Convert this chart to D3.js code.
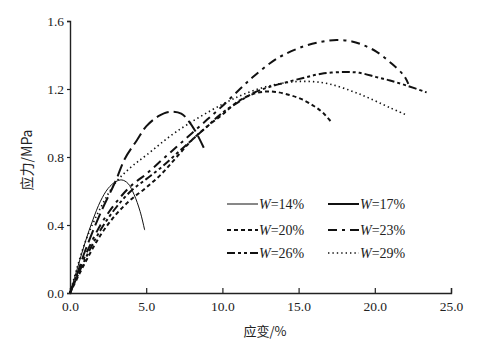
<!DOCTYPE html>
<html>
<head>
<meta charset="utf-8">
<script src="https://cdn.jsdelivr.net/npm/d3@7"></script>
<style>
  body { margin: 0; background: #fff; }
  text { font-family: "Liberation Serif", "DejaVu Serif", serif; fill: #222; }
</style>
</head>
<body>
<script>
'use strict';

// strain (%) / stress (MPa), one array per water content
const w14 = [[0,0],[0.5,0.15],[1,0.3],[1.5,0.43],[2,0.54],[2.5,0.615],[3,0.655],[3.4,0.665],[3.8,0.645],[4.2,0.58],[4.6,0.48],[4.9,0.37]]
const w17 = [[0,0],[0.5,0.12],[1,0.25],[2,0.47],[3,0.66],[3.6,0.79],[4.4,0.9],[5,0.98],[5.8,1.04],[6.5,1.065],[7.3,1.055],[7.8,1.01],[8.3,0.94],[8.8,0.85]]
const w20 = [[0,0],[1,0.18],[2,0.34],[3,0.46],[4,0.55],[5,0.62],[6,0.7],[7,0.8],[8,0.9],[9,0.98],[10,1.05],[11,1.125],[12,1.17],[12.8,1.185],[13.5,1.183],[14.4,1.165],[15.2,1.14],[16,1.1],[16.6,1.06],[17.2,1.0]]
const w23 = [[0,0],[1,0.22],[2,0.4],[3,0.53],[4,0.63],[5,0.7],[6,0.78],[7,0.86],[8,0.94],[9,1.02],[10,1.1],[11.15,1.2],[12,1.27],[13.1,1.35],[14,1.4],[15.3,1.45],[16.5,1.478],[17.5,1.488],[18.5,1.48],[19.2,1.46],[20.1,1.42],[21.1,1.35],[21.9,1.28],[22.2,1.23]]
const w26 = [[0,0],[1,0.2],[2,0.37],[3,0.5],[4,0.6],[5,0.67],[6,0.74],[7,0.82],[8,0.9],[9,0.98],[10,1.06],[11,1.12],[12,1.175],[13,1.21],[14,1.235],[15.3,1.265],[16.5,1.29],[18,1.3],[19,1.295],[20.1,1.27],[21,1.25],[22.1,1.22],[23.4,1.18]]
const w29 = [[0,0],[1,0.3],[2,0.5],[3,0.65],[4,0.74],[5,0.81],[7,0.95],[10,1.11],[12,1.19],[14,1.235],[15.5,1.245],[17,1.23],[19,1.17],[21,1.09],[22,1.05]]

const xTicks = [0, 5, 10, 15, 20, 25]
const yTicks = [0, 0.4, 0.8, 1.2, 1.6]
const labels = ['14%', '17%', '20%', '23%', '26%', '29%']

// line styles: width, dash on curve, dash in legend
const styles = [
  { w: 1, dash: null, legDash: null },
  { w: 2, dash: '13,5', legDash: null },
  { w: 2, dash: '4,3', legDash: '4,3' },
  { w: 2, dash: '9,5,3,5', legDash: '9,5,3,5' },
  { w: 2, dash: '8,3,3,3,3,3', legDash: '8,3,3,3,3,3' },
  { w: 1.6, dash: '1.4,3', legDash: '1.4,3' }
]

const m = { width: 500, height: 353, left: 70, right: 451, top: 21, bottom: 293 }

const svg = d3.select('body').append('svg')
  .attr('width', m.width)
  .attr('height', m.height)

const xScale = d3.scaleLinear().domain([0, 25]).range([m.left, m.right])
const yScale = d3.scaleLinear().domain([0, 1.6]).range([m.bottom, m.top])

// x axis, ticks point up into the plot
svg.append('g')
  .attr('transform', 'translate(0,' + m.bottom + ')')
  .call(d3.axisBottom(xScale).tickValues(xTicks).tickSize(-5).tickPadding(8).tickFormat(d3.format('.1f')))
  .call(g => g.selectAll('text').style('font-size', '13.5px'))

svg.append('g')
  .attr('transform', 'translate(' + m.left + ',0)')
  .call(d3.axisLeft(yScale).tickValues(yTicks).tickSize(3).tickPadding(3).tickFormat(d3.format('.1f')))
  .call(g => g.selectAll('text').style('font-size', '13.5px'))

svg.selectAll('.domain').attr('stroke', '#222').attr('stroke-width', 1.4)
svg.selectAll('.tick line').attr('stroke', '#222').attr('stroke-width', 1.2)

// axis titles
svg.append('text')
  .attr('transform', 'translate(32,160)rotate(-90)')
  .attr('text-anchor', 'middle')
  .style('font-size', '14px')
  .style('font-family', '"Noto Sans CJK SC", sans-serif')
  .text('应力/MPa')

svg.append('text')
  .attr('x', 265)
  .attr('y', 336)
  .attr('text-anchor', 'middle')
  .style('font-size', '13px')
  .style('font-family', '"Noto Sans CJK SC", sans-serif')
  .text('应变/%')

// curves
const line = d3.line()
  .x(d => xScale(d[0]))
  .y(d => yScale(d[1]))
  .curve(d3.curveCatmullRom)

const series = [w14, w17, w20, w23, w26, w29]
series.forEach((s, i) => {
  svg.append('path')
    .datum(s)
    .attr('d', line)
    .attr('fill', 'none')
    .attr('stroke', '#111')
    .attr('stroke-width', styles[i].w)
    .attr('stroke-dasharray', styles[i].dash)
})

// legend, two columns by three rows
const legCols = [227, 328]
const legRows = [204, 230, 253]
labels.forEach((lab, i) => {
  const x0 = legCols[i % 2]
  const y0 = legRows[Math.floor(i / 2)]
  svg.append('line')
    .attr('x1', x0).attr('x2', x0 + 31)
    .attr('y1', y0).attr('y2', y0)
    .attr('stroke', '#111')
    .attr('stroke-width', styles[i].w)
    .attr('stroke-dasharray', styles[i].legDash)
  const t = svg.append('text')
    .attr('x', x0 + 32)
    .attr('y', y0 + 5)
    .style('font-size', '14px')
  t.append('tspan').style('font-style', 'italic').text('W')
  t.append('tspan').text('=' + lab)
})
</script>
</body>
</html>
